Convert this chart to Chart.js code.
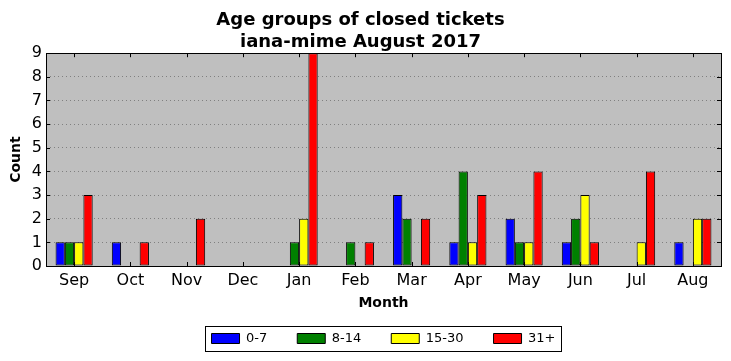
<!DOCTYPE html>
<html>
<head>
<meta charset="utf-8">
<script src="https://cdn.jsdelivr.net/npm/chart.js@4/dist/chart.umd.min.js"></script>
<style>
  html, body { margin: 0; padding: 0; background: #fff; }
  #wrap { width: 731px; height: 361px; }
</style>
</head>
<body>
<div id="wrap"><canvas id="chart"></canvas></div>
<script>
const months = ['Sep', 'Oct', 'Nov', 'Dec', 'Jan', 'Feb', 'Mar', 'Apr', 'May', 'Jun', 'Jul', 'Aug'];
const age0to7 = [1, 1, 0, 0, 0, 0, 3, 1, 2, 1, 0, 1];
const age8to14 = [1, 0, 0, 0, 1, 1, 2, 4, 1, 2, 0, 0];
const age15to30 = [1, 0, 0, 0, 2, 0, 0, 1, 1, 3, 1, 2];
const age31plus = [3, 1, 2, 0, 9, 1, 2, 3, 4, 1, 4, 2];
const yTicks = [0, 1, 2, 3, 4, 5, 6, 7, 8, 9];

Chart.defaults.font.family = '"DejaVu Sans", sans-serif';
Chart.defaults.color = '#000';

// grey plot background, black frame, inward tick marks, legend frame
const mplStyle = {
    id: 'mplStyle',
    beforeDraw(chart) {
        const { ctx, chartArea: a } = chart;
        ctx.save();
        ctx.fillStyle = '#bfbfbf';
        ctx.fillRect(a.left, a.top, a.right - a.left, a.bottom - a.top);
        ctx.restore();
    },
    afterDraw(chart) {
        const { ctx, chartArea: a } = chart;
        const x = chart.scales.x, y = chart.scales.y;
        ctx.save();
        ctx.strokeStyle = '#000';
        ctx.lineWidth = 1;
        ctx.beginPath();
        yTicks.forEach(v => {
            const py = Math.round(y.getPixelForValue(v)) + 0.5;
            ctx.moveTo(a.left, py); ctx.lineTo(a.left + 4, py);
            ctx.moveTo(a.right, py); ctx.lineTo(a.right - 4, py);
        });
        months.forEach((m, i) => {
            const px = Math.round(x.getPixelForValue(i)) + 0.5;
            ctx.moveTo(px, a.bottom); ctx.lineTo(px, a.bottom - 4);
            ctx.moveTo(px, a.top); ctx.lineTo(px, a.top + 4);
        });
        ctx.stroke();
        ctx.strokeRect(Math.round(a.left) + 0.5, Math.round(a.top) + 0.5,
            Math.round(a.right - a.left), Math.round(a.bottom - a.top));

        const boxes = chart.legend.legendHitBoxes;
        if (boxes && boxes.length) {
            const first = boxes[0], last = boxes[boxes.length - 1];
            const l = first.left - 7, r = last.left + last.width + 5;
            const t = first.top - 6, b = first.top + first.height + 6;
            ctx.strokeRect(Math.round(l) + 0.5, Math.round(t) + 0.5, Math.round(r - l), Math.round(b - t));
        }
        ctx.restore();
    }
};

const barStyle = (label, data, color) => ({
    label,
    data,
    backgroundColor: color,
    borderColor: '#000',
    borderWidth: 1,
    borderSkipped: false,
    barPercentage: 1,
    categoryPercentage: 0.66
});

new Chart(document.getElementById('chart'), {
    type: 'bar',
    data: {
        labels: months,
        datasets: [
            barStyle('0-7', age0to7, '#0000ff'),
            barStyle('8-14', age8to14, '#008000'),
            barStyle('15-30', age15to30, '#ffff00'),
            barStyle('31+', age31plus, '#ff0000')
        ]
    },
    plugins: [mplStyle],
    options: {
        responsive: true,
        maintainAspectRatio: false,
        animation: false,
        layout: { padding: { left: 0, right: 10, top: 0, bottom: 6 } },
        plugins: {
            title: {
                display: true,
                text: ['Age groups of closed tickets', 'iana-mime August 2017'],
                font: { size: 18, weight: 'bold' },
                color: '#000',
                padding: { top: 10, bottom: 0 }
            },
            legend: {
                position: 'bottom',
                fullSize: false,
                labels: {
                    boxWidth: 28,
                    boxHeight: 10,
                    padding: 30,
                    font: { size: 13 },
                    color: '#000'
                }
            },
            tooltip: { enabled: false }
        },
        scales: {
            x: {
                grid: { display: false, drawTicks: false },
                border: { display: false },
                ticks: { font: { size: 16 }, color: '#000', padding: 5, autoSkip: false, maxRotation: 0 },
                title: {
                    display: true,
                    text: 'Month',
                    font: { size: 14, weight: 'bold' },
                    color: '#000',
                    padding: { top: -10, bottom: -10 }
                },
                afterFit: scale => { scale.height = 36; }
            },
            y: {
                min: 0,
                max: 9,
                ticks: { stepSize: 1, autoSkip: false, font: { size: 16 }, color: '#000', padding: 4 },
                grid: {
                    color: '#808080',
                    lineWidth: 1,
                    drawTicks: false
                },
                border: { display: false, dash: [1, 3] },
                title: {
                    display: true,
                    text: 'Count',
                    font: { size: 14, weight: 'bold' },
                    color: '#000',
                    padding: { top: 8, bottom: 0 }
                },
                afterFit: scale => { scale.width = 46; }
            }
        }
    }
});
</script>
</body>
</html>
